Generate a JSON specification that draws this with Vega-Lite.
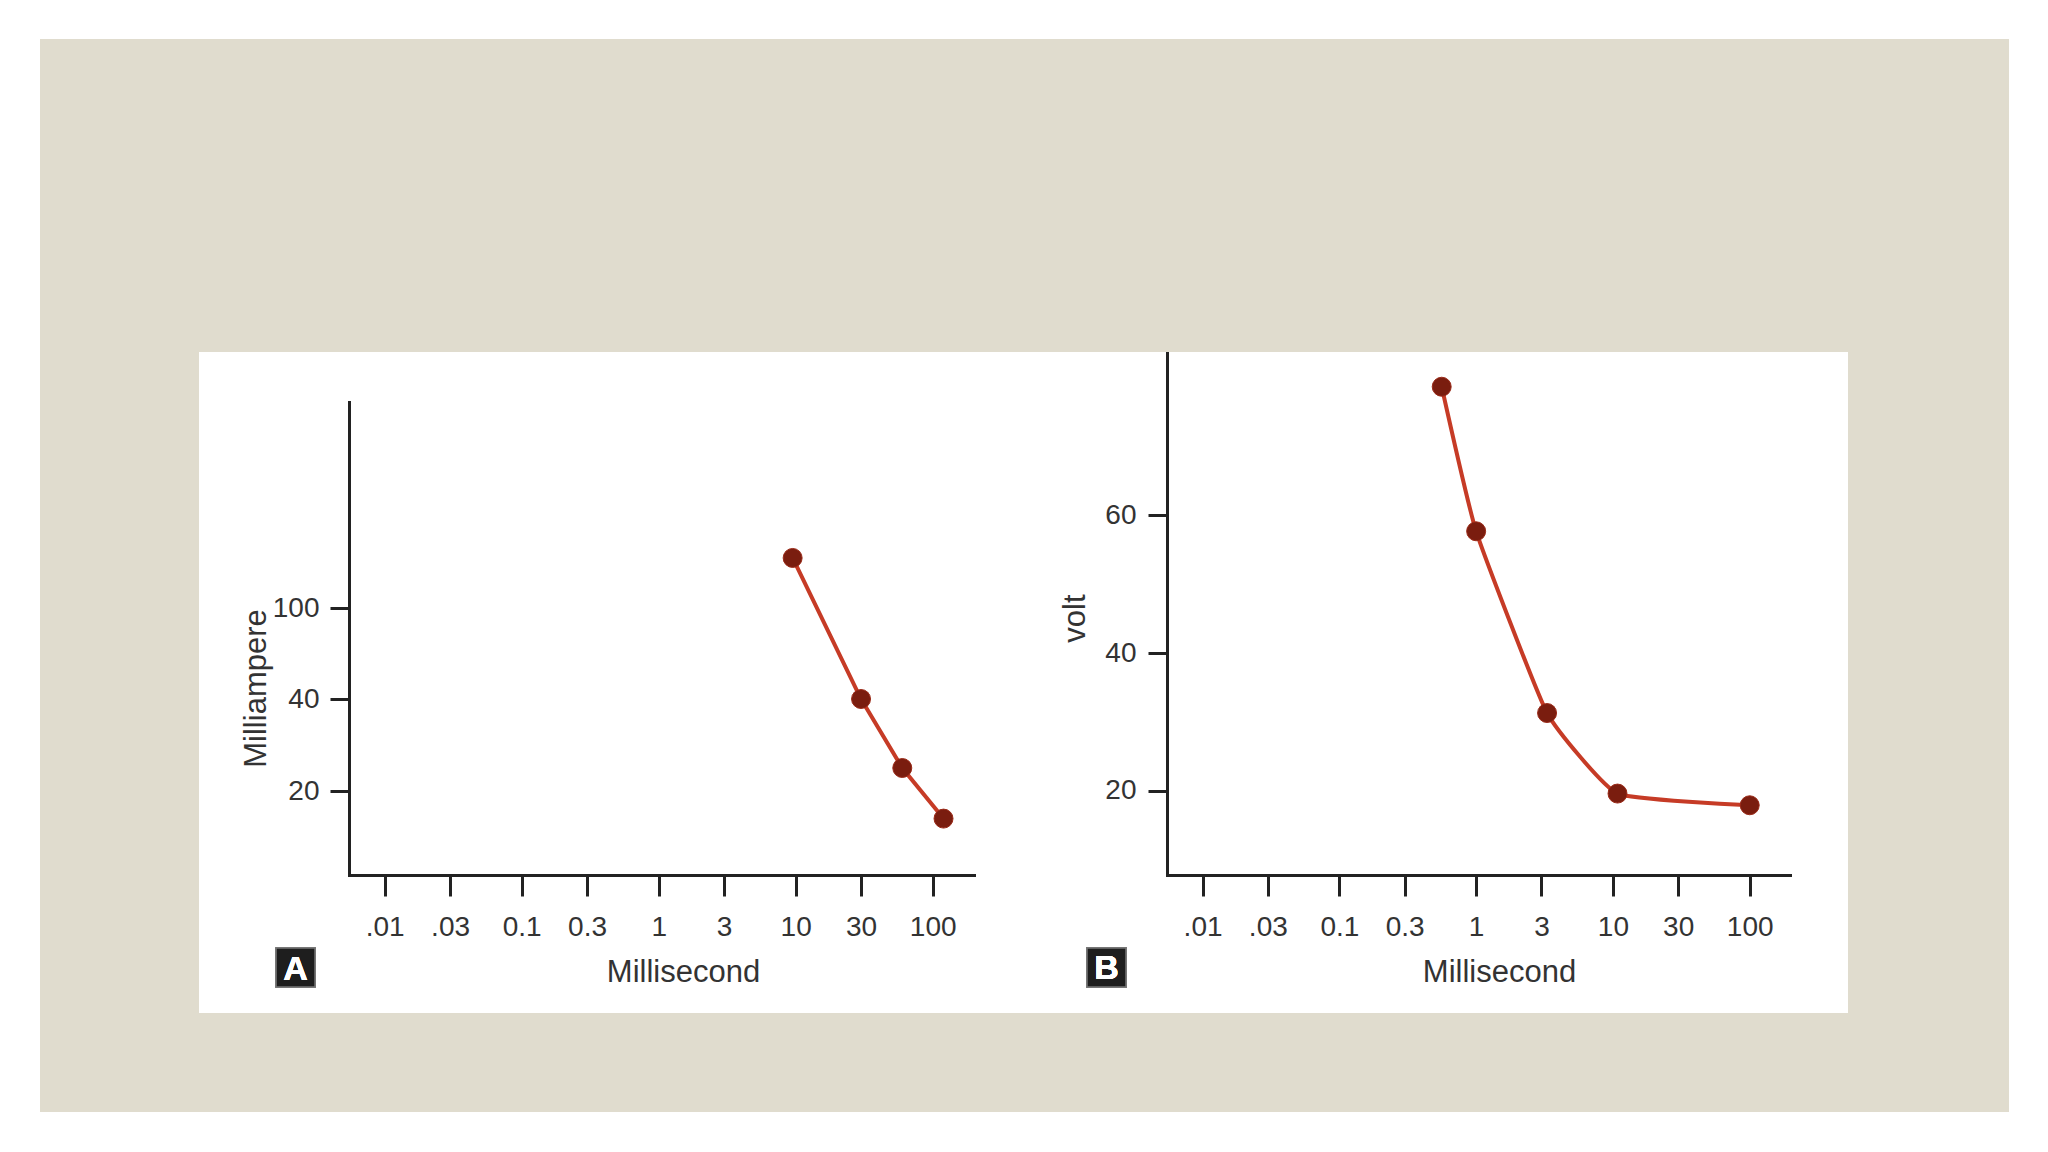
{
  "$schema": "https://vega.github.io/schema/vega-lite/v6.json",
  "background": "white",
  "padding": {"left": 40, "top": 39, "right": 39, "bottom": 40},
  "spacing": 0,
  "config": {
    "view": {"stroke": null},
    "concat": {"spacing": 0},
    "font": "Liberation Sans",
    "axis": {
      "domainColor": "#222222",
      "domainWidth": 3,
      "domainCap": "square",
      "tickColor": "#222222",
      "tickWidth": 3,
      "labelFont": "Liberation Sans",
      "labelFontSize": 28,
      "labelColor": "#333333",
      "titleFont": "Liberation Sans",
      "titleFontSize": 31,
      "titleColor": "#333333",
      "titleFontWeight": "normal",
      "grid": false,
      "labelFlush": false,
      "labelOverlap": false
    }
  },
  "datasets": {
    "panelA": [
      {"ms": 9.5, "ma": 133},
      {"ms": 30, "ma": 40},
      {"ms": 60, "ma": 25},
      {"ms": 120, "ma": 14}
    ],
    "panelB": [
      {"ms": 0.56, "volt": 78.7},
      {"ms": 1.0, "volt": 57.7},
      {"ms": 3.3, "volt": 31.3},
      {"ms": 10.8, "volt": 19.6},
      {"ms": 100, "volt": 17.9}
    ],
    "empty": []
  },
  "vconcat": [
    {"width": 1969, "height": 313, "view": {"fill": "#e0dcce", "stroke": null}, "data": {"name": "empty"}, "mark": "point"},
    {
      "spacing": 0,
      "hconcat": [
        {"width": 159, "height": 661, "view": {"fill": "#e0dcce", "stroke": null}, "data": {"name": "empty"}, "mark": "point"},
        {
          "width": 824,
          "height": 661,
          "data": {"name": "panelA"},
          "encoding": {
            "x": {
              "field": "ms", "type": "quantitative",
              "scale": {"type": "log", "domain": [0.005486, 200.3], "range": [150, 775], "nice": false},
              "axis": {
                "orient": "bottom", "offset": -138,
                "values": [0.01, 0.03, 0.1, 0.3, 1, 3, 10, 30, 100],
                "format": "~g",
                "labelExpr": "datum.value < 0.05 ? substring(datum.label, 1) : datum.label",
                "tickSize": 21, "labelPadding": 17,
                "title": "Millisecond", "titleX": 484, "titleY": 106, "titleBaseline": "alphabetic"
              }
            },
            "y": {
              "field": "ma", "type": "quantitative",
              "scale": {"domain": [1.74, 20, 40, 100, 235.8], "range": [523, 439, 347, 256, 50], "nice": false, "zero": false},
              "axis": {
                "orient": "left", "offset": -150,
                "values": [20, 40, 100],
                "tickSize": 19, "labelPadding": 11,
                "title": "Milliampere", "titleX": -84, "titleY": 336, "titleBaseline": "alphabetic"
              }
            }
          },
          "layer": [
            {"mark": {"type": "line", "color": "#c63b26", "strokeWidth": 4}},
            {"mark": {"type": "circle", "size": 360, "color": "#7a1d0f", "opacity": 1, "stroke": "#9b2a18", "strokeWidth": 1}},
            {
              "mark": {"type": "square", "size": 1521, "color": "#1e1e1e", "opacity": 1, "stroke": "#777777", "strokeWidth": 1.5},
              "encoding": {"x": {"datum": 0.002234}, "y": {"datum": -18.37}}
            },
            {
              "mark": {"type": "text", "text": "A", "color": "white", "fontSize": 34, "fontWeight": "bold", "align": "center", "baseline": "middle", "dy": 2},
              "encoding": {"x": {"datum": 0.002234}, "y": {"datum": -18.37}}
            }
          ]
        },
        {
          "width": 825,
          "height": 661,
          "data": {"name": "panelB"},
          "encoding": {
            "x": {
              "field": "ms", "type": "quantitative",
              "scale": {"type": "log", "domain": [0.005495, 197], "range": [144, 767], "nice": false},
              "axis": {
                "orient": "bottom", "offset": -138,
                "values": [0.01, 0.03, 0.1, 0.3, 1, 3, 10, 30, 100],
                "format": "~g",
                "labelExpr": "datum.value < 0.05 ? substring(datum.label, 1) : datum.label",
                "tickSize": 21, "labelPadding": 17,
                "title": "Millisecond", "titleX": 476, "titleY": 106, "titleBaseline": "alphabetic"
              }
            },
            "y": {
              "field": "volt", "type": "quantitative",
              "scale": {"domain": [7.77, 83.6], "range": [523, 1], "nice": false, "zero": false},
              "axis": {
                "orient": "left", "offset": -144,
                "values": [20, 40, 60],
                "tickSize": 19, "labelPadding": 12,
                "title": "volt", "titleX": -83, "titleY": 266, "titleBaseline": "alphabetic"
              }
            }
          },
          "layer": [
            {"mark": {"type": "line", "color": "#c63b26", "strokeWidth": 4, "interpolate": "cardinal", "tension": 0.6}},
            {"mark": {"type": "circle", "size": 360, "color": "#7a1d0f", "opacity": 1, "stroke": "#9b2a18", "strokeWidth": 1}},
            {
              "mark": {"type": "square", "size": 1521, "color": "#1e1e1e", "opacity": 1, "stroke": "#777777", "strokeWidth": 1.5},
              "encoding": {"x": {"datum": 0.001985}, "y": {"datum": -5.66}}
            },
            {
              "mark": {"type": "text", "text": "B", "color": "white", "fontSize": 34, "fontWeight": "bold", "align": "center", "baseline": "middle", "dy": 2},
              "encoding": {"x": {"datum": 0.001985}, "y": {"datum": -5.66}}
            }
          ]
        },
        {"width": 161, "height": 661, "view": {"fill": "#e0dcce", "stroke": null}, "data": {"name": "empty"}, "mark": "point"}
      ]
    },
    {"width": 1969, "height": 99, "view": {"fill": "#e0dcce", "stroke": null}, "data": {"name": "empty"}, "mark": "point"}
  ]
}
